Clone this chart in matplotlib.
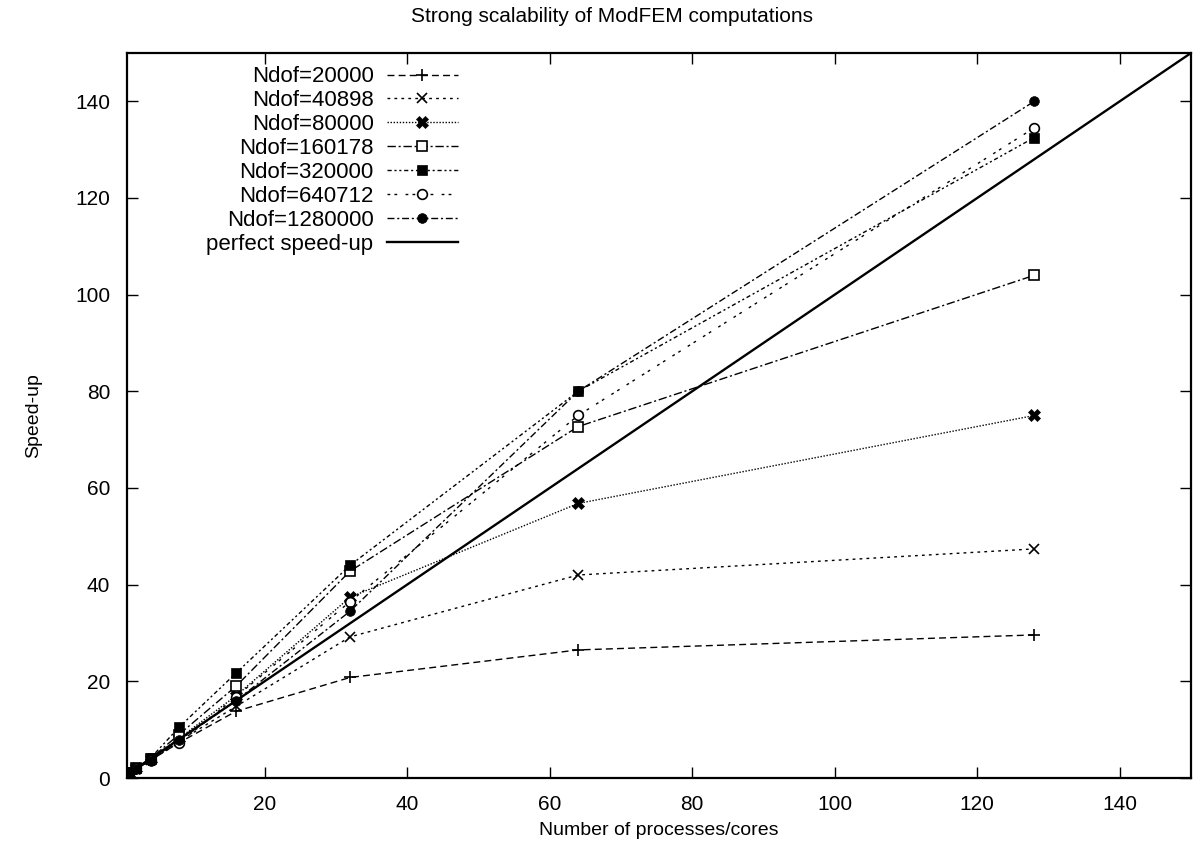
import matplotlib
matplotlib.use("Agg")
from matplotlib import pyplot as plt

plt.rcParams['font.family'] = ['Liberation Sans', 'DejaVu Sans']

# cores
procs = [1, 2, 4, 8, 16, 32, 64, 128]

# speed-up per problem size
s_20000 = [1, 1.9, 3.7, 7.3, 13.8, 20.8, 26.5, 29.6]
s_40898 = [1, 1.95, 3.8, 7.6, 14.8, 29.2, 42.0, 47.4]
s_80000 = [1, 2.0, 3.9, 8.2, 17.0, 37.4, 56.8, 75.0]
s_160178 = [1, 2.0, 4.0, 9.0, 19.0, 42.8, 72.7, 104.0]
s_320000 = [1, 2.0, 4.1, 10.5, 21.7, 44.0, 80.0, 132.5]
s_640712 = [1, 2.0, 3.8, 7.2, 16.8, 36.5, 75.0, 134.5]
s_1280000 = [1, 1.9, 3.6, 7.8, 16.0, 34.5, 80.0, 140.0]

labels = ["Ndof=20000", "Ndof=40898", "Ndof=80000", "Ndof=160178",
          "Ndof=320000", "Ndof=640712", "Ndof=1280000"]
perfect_x = [0, 150]

fig = plt.figure(figsize=(11.93, 8.5), dpi=100)
ax = fig.add_axes([127 / 1193, 72 / 850, (1191 - 127) / 1193, (778 - 53) / 850])

series = [s_20000, s_40898, s_80000, s_160178, s_320000, s_640712, s_1280000]
styles = [
    dict(marker='+', dashes=(5, 3), ms=9, mew=1.2),
    dict(marker='x', dashes=(2, 3), ms=7, mew=1.2),
    dict(marker='X', dashes=(1, 1.2), ms=8, mew=0.5),
    dict(marker='s', dashes=(6, 2, 1.5, 2), ms=7, mfc='white', mew=1.2),
    dict(marker='s', dashes=(3, 2, 1.5, 2, 1.5, 2), ms=7, mew=0.5),
    dict(marker='o', dashes=(2, 3, 2, 6), ms=7, mfc='white', mew=1.2),
    dict(marker='o', dashes=(5, 2, 1.5, 2), ms=7, mew=0.5),
]
for ys, lab, st in zip(series, labels, styles):
    ax.plot(procs, ys, color='black', lw=1.0, mec='black', label=lab, **st)

ax.plot(perfect_x, perfect_x, color='black', lw=1.7, label='perfect speed-up')

ax.set_xlim(0.7, 150)
ax.set_ylim(0, 150)
ax.set_xticks(range(20, 141, 20))
ax.set_yticks(range(0, 141, 20))
ax.tick_params(direction='in', top=True, right=True, length=8, width=1,
               labelsize=15, pad=12)
for sp in ax.spines.values():
    sp.set_linewidth(1.6)

ax.set_xlabel('Number of processes/cores', fontsize=14, labelpad=6)
ax.set_ylabel('Speed-up', fontsize=14, labelpad=24)
fig.text(612 / 1193, 1 - 16 / 850, 'Strong scalability of ModFEM computations',
         ha='center', va='center', fontsize=15)

ax.legend(loc='upper left', bbox_to_anchor=(0.06, 1.003), markerfirst=False,
          frameon=False, fontsize=16, handlelength=3.2, labelspacing=0.13,
          handletextpad=0.6, borderaxespad=0.3)

plt.savefig("out.png", dpi=100)
